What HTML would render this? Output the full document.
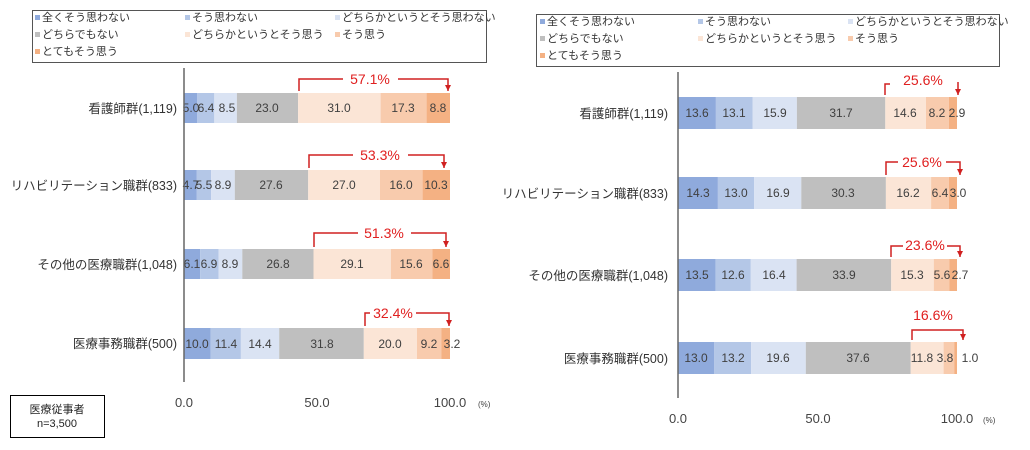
<!DOCTYPE html>
<html><head><meta charset="utf-8"><style>
body{margin:0;background:#fff}
svg{display:block;font-family:"Liberation Sans","Noto Sans CJK JP",sans-serif}
.v{font-size:12px;fill:#404040;text-anchor:middle}
.c{font-size:12.5px;fill:#333;text-anchor:end}
.lg{font-size:11px;fill:#333}
.r{font-size:14px;fill:#e02020;text-anchor:middle}
.t{font-size:13px;fill:#444;text-anchor:middle}
</style></head><body>
<svg width="1030" height="450" viewBox="0 0 1030 450">
<defs><marker id="a" markerWidth="7" markerHeight="7" refX="6" refY="3" orient="auto" markerUnits="userSpaceOnUse"><path d="M0,0 L6,3 L0,6z" fill="#d02020"/></marker></defs>
<rect x="32.5" y="10.5" width="454" height="52" fill="#fff" stroke="#555"/>
<g class="lg">
<rect x="35" y="15" width="5" height="5" fill="#8faadc"/><text x="42" y="21">全くそう思わない</text>
<rect x="185" y="15" width="5" height="5" fill="#b4c7e7"/><text x="192" y="21">そう思わない</text>
<rect x="335" y="15" width="5" height="5" fill="#dae3f3"/><text x="342" y="21">どちらかというとそう思わない</text>
<rect x="35" y="32" width="5" height="5" fill="#bfbfbf"/><text x="42" y="38">どちらでもない</text>
<rect x="185" y="32" width="5" height="5" fill="#fbe5d6"/><text x="192" y="38">どちらかというとそう思う</text>
<rect x="335" y="32" width="5" height="5" fill="#f8cbad"/><text x="342" y="38">そう思う</text>
<rect x="35" y="49" width="5" height="5" fill="#f4b183"/><text x="42" y="55">とてもそう思う</text>
</g>
<rect x="536.5" y="14.5" width="463" height="52" fill="#fff" stroke="#555"/>
<g class="lg">
<rect x="540" y="19" width="5" height="5" fill="#8faadc"/><text x="547" y="25">全くそう思わない</text>
<rect x="698" y="19" width="5" height="5" fill="#b4c7e7"/><text x="705" y="25">そう思わない</text>
<rect x="848" y="19" width="5" height="5" fill="#dae3f3"/><text x="855" y="25">どちらかというとそう思わない</text>
<rect x="540" y="36" width="5" height="5" fill="#bfbfbf"/><text x="547" y="42">どちらでもない</text>
<rect x="698" y="36" width="5" height="5" fill="#fbe5d6"/><text x="705" y="42">どちらかというとそう思う</text>
<rect x="848" y="36" width="5" height="5" fill="#f8cbad"/><text x="855" y="42">そう思う</text>
<rect x="540" y="53" width="5" height="5" fill="#f4b183"/><text x="547" y="59">とてもそう思う</text>
</g>

<g>
<rect x="184" y="93" width="13.3" height="30" fill="#8faadc"/><rect x="197.3" y="93" width="17" height="30" fill="#b4c7e7"/><rect x="214.3" y="93" width="22.6" height="30" fill="#dae3f3"/><rect x="236.9" y="93" width="61.2" height="30" fill="#bfbfbf"/><rect x="298.1" y="93" width="82.5" height="30" fill="#fbe5d6"/><rect x="380.6" y="93" width="46" height="30" fill="#f8cbad"/><rect x="426.6" y="93" width="23.4" height="30" fill="#f4b183"/>
<rect x="184" y="170" width="12.5" height="30" fill="#8faadc"/><rect x="196.5" y="170" width="14.6" height="30" fill="#b4c7e7"/><rect x="211.1" y="170" width="23.7" height="30" fill="#dae3f3"/><rect x="234.8" y="170" width="73.4" height="30" fill="#bfbfbf"/><rect x="308.2" y="170" width="71.8" height="30" fill="#fbe5d6"/><rect x="380" y="170" width="42.6" height="30" fill="#f8cbad"/><rect x="422.6" y="170" width="27.4" height="30" fill="#f4b183"/>
<rect x="184" y="249" width="16.2" height="30" fill="#8faadc"/><rect x="200.2" y="249" width="18.4" height="30" fill="#b4c7e7"/><rect x="218.6" y="249" width="23.7" height="30" fill="#dae3f3"/><rect x="242.3" y="249" width="71.2" height="30" fill="#bfbfbf"/><rect x="313.5" y="249" width="77.4" height="30" fill="#fbe5d6"/><rect x="390.9" y="249" width="41.5" height="30" fill="#f8cbad"/><rect x="432.4" y="249" width="17.6" height="30" fill="#f4b183"/>
<rect x="184" y="328" width="26.6" height="31" fill="#8faadc"/><rect x="210.6" y="328" width="30.3" height="31" fill="#b4c7e7"/><rect x="240.9" y="328" width="38.3" height="31" fill="#dae3f3"/><rect x="279.2" y="328" width="84.6" height="31" fill="#bfbfbf"/><rect x="363.8" y="328" width="53.2" height="31" fill="#fbe5d6"/><rect x="417" y="328" width="24.5" height="31" fill="#f8cbad"/><rect x="441.5" y="328" width="8.5" height="31" fill="#f4b183"/>
</g>
<g class="v">
<text x="191" y="112">5.0</text><text x="206" y="112">6.4</text><text x="227" y="112">8.5</text><text x="267" y="112">23.0</text><text x="339" y="112">31.0</text><text x="403" y="112">17.3</text><text x="438" y="112">8.8</text>
<text x="191" y="189">4.7</text><text x="204" y="189">5.5</text><text x="223" y="189">8.9</text><text x="271" y="189">27.6</text><text x="344" y="189">27.0</text><text x="401" y="189">16.0</text><text x="436" y="189">10.3</text>
<text x="192" y="268">6.1</text><text x="209" y="268">6.9</text><text x="230" y="268">8.9</text><text x="278" y="268">26.8</text><text x="352" y="268">29.1</text><text x="411" y="268">15.6</text><text x="441" y="268">6.6</text>
<text x="197" y="348">10.0</text><text x="226" y="348">11.4</text><text x="260" y="348">14.4</text><text x="322" y="348">31.8</text><text x="390" y="348">20.0</text><text x="429" y="348">9.2</text><text x="452" y="348">3.2</text>
</g>
<g class="c">
<text x="177" y="113">看護師群(1,119)</text><text x="177" y="190">リハビリテーション職群(833)</text><text x="177" y="269">その他の医療職群(1,048)</text><text x="177" y="348">医療事務職群(500)</text>
</g>
<line x1="184" y1="68" x2="184" y2="382" stroke="#666" stroke-width="1.5"/>
<g class="t"><text x="184" y="407">0.0</text><text x="317" y="407">50.0</text><text x="450" y="407">100.0</text></g>
<text x="478" y="407" font-size="8" fill="#444">(%)</text>
<rect x="10.5" y="395.5" width="94" height="42" fill="#fff" stroke="#000"/>
<text x="57" y="413" font-size="11" fill="#222" text-anchor="middle">医療従事者</text>
<text x="57" y="427" font-size="11" fill="#222" text-anchor="middle">n=3,500</text>

<g fill="none" stroke="#d02020" stroke-width="1.5">
<path d="M299,91 V79 H343"/><path d="M398,79 H448 V91" marker-end="url(#a)"/>
<path d="M309,168 V155 H353"/><path d="M408,155 H444 V168" marker-end="url(#a)"/>
<path d="M314,247 V233 H358"/><path d="M411,233 H446 V247" marker-end="url(#a)"/>
<path d="M365,326 V313 H370"/><path d="M416,313 H449 V326" marker-end="url(#a)"/>
</g>
<g class="r"><text x="370" y="84">57.1%</text><text x="380" y="160">53.3%</text><text x="384" y="238">51.3%</text><text x="393" y="318">32.4%</text></g>

<g>
<rect x="678" y="97" width="37.9" height="32" fill="#8faadc"/><rect x="715.9" y="97" width="36.6" height="32" fill="#b4c7e7"/><rect x="752.5" y="97" width="44.4" height="32" fill="#dae3f3"/><rect x="796.9" y="97" width="88.4" height="32" fill="#bfbfbf"/><rect x="885.3" y="97" width="40.7" height="32" fill="#fbe5d6"/><rect x="926" y="97" width="22.9" height="32" fill="#f8cbad"/><rect x="948.9" y="97" width="8.1" height="32" fill="#f4b183"/>
<rect x="678" y="177" width="39.9" height="32" fill="#8faadc"/><rect x="717.9" y="177" width="36.3" height="32" fill="#b4c7e7"/><rect x="754.2" y="177" width="47.1" height="32" fill="#dae3f3"/><rect x="801.3" y="177" width="84.6" height="32" fill="#bfbfbf"/><rect x="885.9" y="177" width="45.2" height="32" fill="#fbe5d6"/><rect x="931.1" y="177" width="17.8" height="32" fill="#f8cbad"/><rect x="948.9" y="177" width="8.1" height="32" fill="#f4b183"/>
<rect x="678" y="259" width="37.7" height="32" fill="#8faadc"/><rect x="715.7" y="259" width="35.1" height="32" fill="#b4c7e7"/><rect x="750.8" y="259" width="45.8" height="32" fill="#dae3f3"/><rect x="796.6" y="259" width="94.6" height="32" fill="#bfbfbf"/><rect x="891.2" y="259" width="42.6" height="32" fill="#fbe5d6"/><rect x="933.8" y="259" width="15.7" height="32" fill="#f8cbad"/><rect x="949.5" y="259" width="7.5" height="32" fill="#f4b183"/>
<rect x="678" y="342" width="36.3" height="32" fill="#8faadc"/><rect x="714.3" y="342" width="36.8" height="32" fill="#b4c7e7"/><rect x="751.1" y="342" width="54.7" height="32" fill="#dae3f3"/><rect x="805.8" y="342" width="104.9" height="32" fill="#bfbfbf"/><rect x="910.7" y="342" width="32.9" height="32" fill="#fbe5d6"/><rect x="943.6" y="342" width="10.6" height="32" fill="#f8cbad"/><rect x="954.2" y="342" width="2.8" height="32" fill="#f4b183"/>
</g>
<g class="v">
<text x="697" y="117">13.6</text><text x="734" y="117">13.1</text><text x="775" y="117">15.9</text><text x="841" y="117">31.7</text><text x="905" y="117">14.6</text><text x="937" y="117">8.2</text><text x="957" y="117">2.9</text>
<text x="698" y="197">14.3</text><text x="736" y="197">13.0</text><text x="778" y="197">16.9</text><text x="843" y="197">30.3</text><text x="908" y="197">16.2</text><text x="940" y="197">6.4</text><text x="958" y="197">3.0</text>
<text x="697" y="279">13.5</text><text x="733" y="279">12.6</text><text x="774" y="279">16.4</text><text x="844" y="279">33.9</text><text x="912" y="279">15.3</text><text x="942" y="279">5.6</text><text x="960" y="279">2.7</text>
<text x="696" y="362">13.0</text><text x="733" y="362">13.2</text><text x="778" y="362">19.6</text><text x="858" y="362">37.6</text><text x="922" y="362">11.8</text><text x="945" y="362">3.8</text><text x="970" y="362">1.0</text>
</g>
<g class="c">
<text x="668" y="118">看護師群(1,119)</text><text x="668" y="198">リハビリテーション職群(833)</text><text x="668" y="280">その他の医療職群(1,048)</text><text x="668" y="363">医療事務職群(500)</text>
</g>
<line x1="678" y1="72" x2="678" y2="398" stroke="#666" stroke-width="1.5"/>
<g class="t"><text x="678" y="423">0.0</text><text x="818" y="423">50.0</text><text x="957" y="423">100.0</text></g>
<text x="983" y="423" font-size="8" fill="#444">(%)</text>
<g fill="none" stroke="#d02020" stroke-width="1.5">
<path d="M885,95 V84 H890"/><path d="M958,82 V95" marker-end="url(#a)"/>
<path d="M886,175 V162 H898"/><path d="M946,162 H960 V175" marker-end="url(#a)"/>
<path d="M891,257 V246 H903"/><path d="M947,246 H960 V257" marker-end="url(#a)"/>
<path d="M912,340 V330 H963 V340" marker-end="url(#a)"/>
</g>
<g class="r"><text x="923" y="85">25.6%</text><text x="922" y="167">25.6%</text><text x="925" y="250">23.6%</text><text x="933" y="320">16.6%</text></g>
</svg>
</body></html>
